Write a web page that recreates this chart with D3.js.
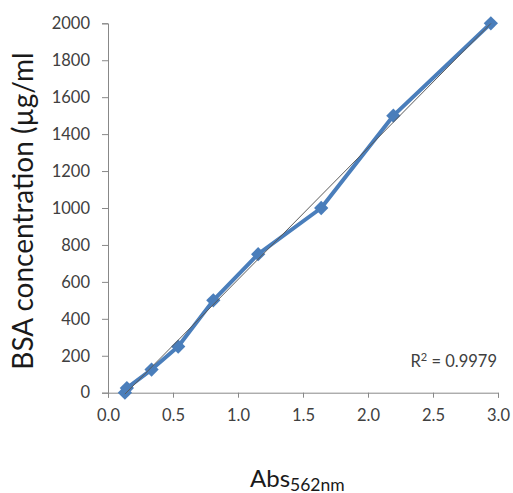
<!DOCTYPE html>
<html>
<head>
<meta charset="utf-8">
<script src="https://cdn.jsdelivr.net/npm/d3@7"></script>
<style>
  html, body { margin: 0; padding: 0; background: #fff; }
  svg { display: block; font-family: Lato, "Open Sans", sans-serif; }
</style>
</head>
<body>
<svg id="chart" width="513" height="493"></svg>
<script>
// BSA standard curve: absorbance at 562 nm vs. protein concentration
const absorbance = [0.13, 0.145, 0.335, 0.54, 0.81, 1.155, 1.64, 2.195, 2.945];
const concentration = [0, 25, 125, 250, 500, 750, 1000, 1500, 2000];
const xTicks = [0, 0.5, 1.0, 1.5, 2.0, 2.5, 3.0];
const yTicks = [0, 200, 400, 600, 800, 1000, 1200, 1400, 1600, 1800, 2000];
const rSquaredLabel = "0.9979";

const svg = d3.select("#chart");
const x = d3.scaleLinear().domain([0, 3]).range([108, 498]);
const y = d3.scaleLinear().domain([0, 2000]).range([392.7, 23.3]);

const axisColor = "#888888";
const tickText = "#404040";

// y axis
const yAxis = svg.append("g")
  .attr("transform", `translate(${x(0)},0)`)
  .call(d3.axisLeft(y).tickValues(yTicks).tickSize(6).tickPadding(12).tickFormat(d3.format("d")));
// x axis
const xAxis = svg.append("g")
  .attr("transform", `translate(0,${y(0)})`)
  .call(d3.axisBottom(x).tickValues(xTicks).tickSize(5).tickPadding(12).tickFormat(d3.format(".1f")));

[yAxis, xAxis].forEach(g => {
  g.select(".domain").attr("stroke", axisColor).attr("stroke-width", 1);
  g.selectAll(".tick line").attr("stroke", axisColor);
  g.selectAll(".tick text").attr("fill", tickText)
    .style("font-family", "Lato, sans-serif").style("font-size", "16.5px");
});
xAxis.selectAll(".tick text").attr("dy", "0.71em");

// data series
const data = absorbance.map((a, i) => ({ a, c: concentration[i] }));
const blue = "#4A7EBB";

svg.append("path")
  .datum(data)
  .attr("fill", "none")
  .attr("stroke", blue)
  .attr("stroke-width", 4)
  .attr("stroke-linejoin", "round")
  .attr("d", d3.line().x(d => x(d.a)).y(d => y(d.c)));

svg.append("g").selectAll("path")
  .data(data)
  .join("path")
  .attr("transform", d => `translate(${x(d.a)},${y(d.c)})`)
  .attr("d", d3.symbol(d3.symbolDiamond2, 130)())
  .attr("fill", blue);

// linear least-squares trendline
const mx = d3.mean(absorbance), my = d3.mean(concentration);
const sxy = d3.sum(data, d => (d.a - mx) * (d.c - my));
const sxx = d3.sum(data, d => (d.a - mx) ** 2);
const slope = sxy / sxx, intercept = my - slope * mx;
const [xmin, xmax] = d3.extent(absorbance);
svg.append("line")
  .attr("x1", x(xmin)).attr("y1", y(slope * xmin + intercept))
  .attr("x2", x(xmax)).attr("y2", y(slope * xmax + intercept))
  .attr("stroke", "#5a5a5a")
  .attr("stroke-width", 1);

// R² annotation
const r2 = svg.append("text")
  .attr("x", 497).attr("y", 367)
  .attr("text-anchor", "end")
  .attr("fill", tickText)
  .style("font-size", "16.5px");
r2.append("tspan").text("R");
r2.append("tspan").text("2").attr("dy", -6).style("font-size", "11px");
r2.append("tspan").text(" = " + rSquaredLabel).attr("dy", 6);

// axis titles
svg.append("text")
  .attr("transform", "translate(33,211) rotate(-90)")
  .attr("text-anchor", "middle")
  .attr("fill", "#1a1a1a")
  .style("font-size", "28px")
  .text("BSA concentration (µg/ml");

const xt = svg.append("text")
  .attr("x", 250).attr("y", 486.5)
  .attr("fill", "#1a1a1a")
  .style("font-size", "24px");
xt.append("tspan").text("Abs");
xt.append("tspan").text("562nm").attr("dy", 4).style("font-size", "17.5px");
</script>
</body>
</html>
